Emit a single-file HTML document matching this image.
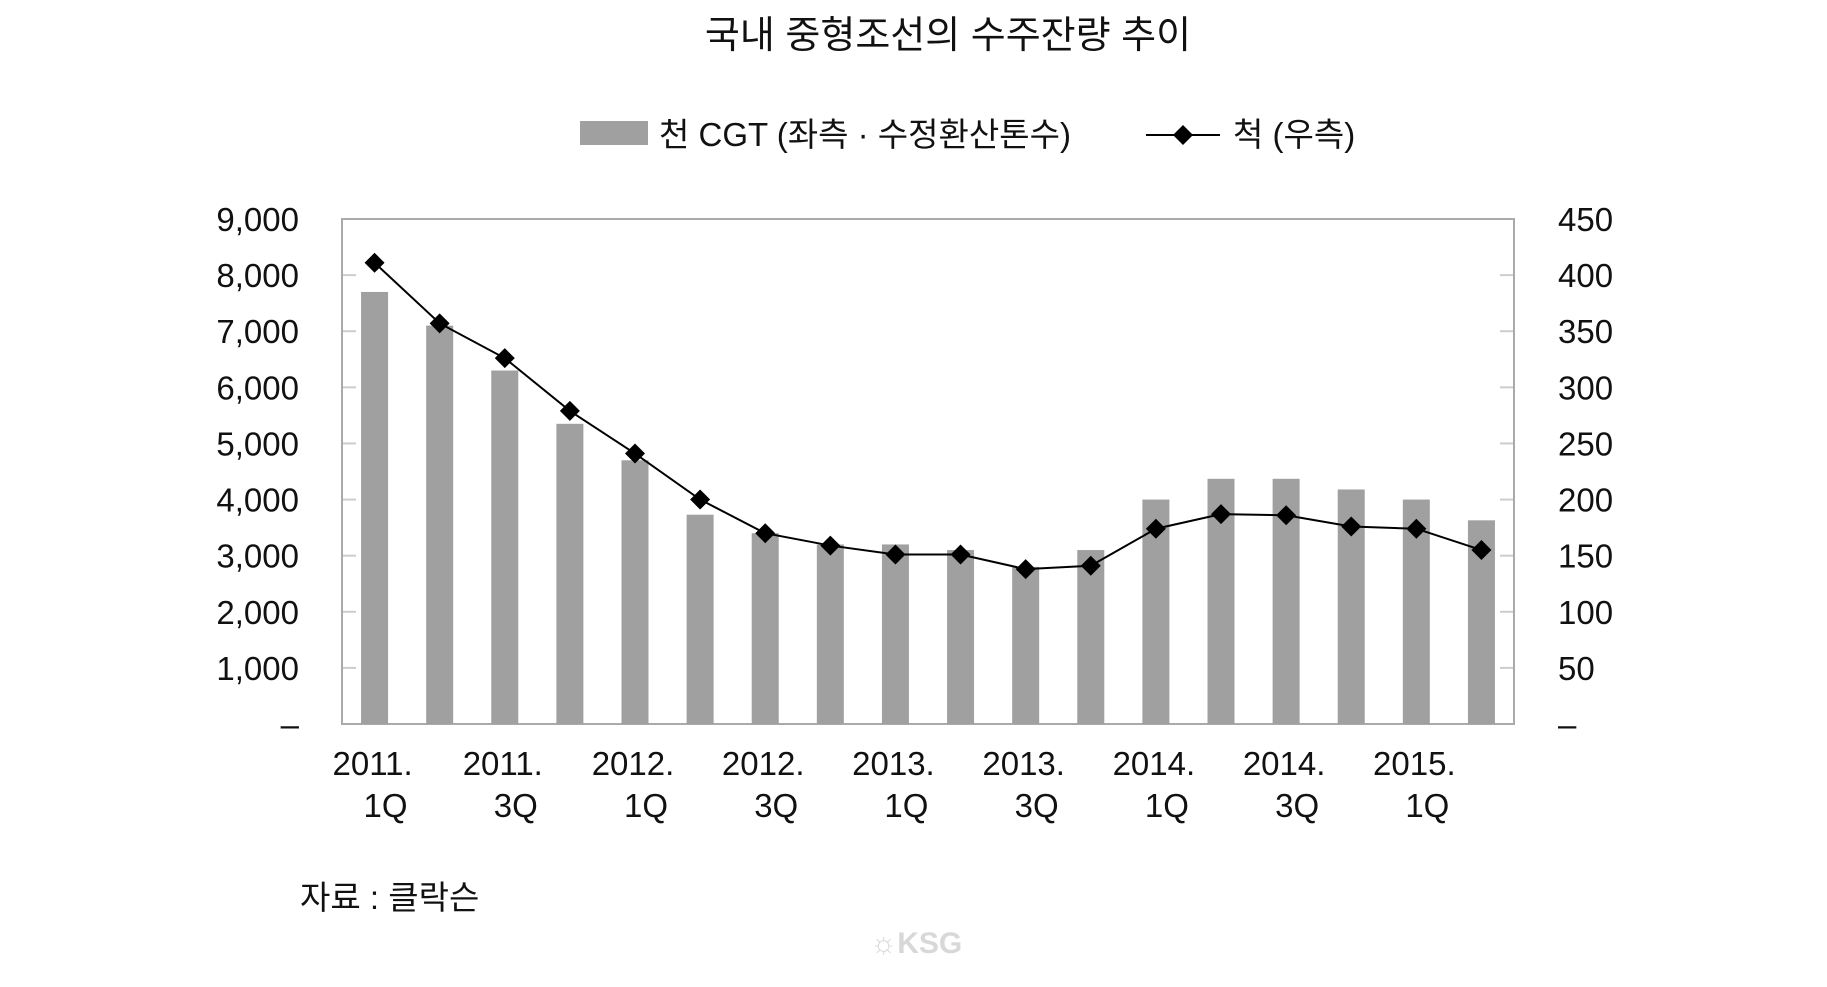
<!DOCTYPE html>
<html><head><meta charset="utf-8"><style>
html,body{margin:0;padding:0;background:#fff;}
svg{display:block;}
text{font-family:"Liberation Sans","Noto Sans CJK KR",sans-serif;fill:#111;}
</style></head><body>
<svg width="1827" height="987" viewBox="0 0 1827 987" xmlns="http://www.w3.org/2000/svg">
<text x="948" y="48" font-size="38" text-anchor="middle">국내 중형조선의 수주잔량 추이</text>
<rect x="580" y="121" width="68" height="24" fill="#a0a0a0"/>
<text x="659" y="146" font-size="33">천 CGT (좌측 · 수정환산톤수)</text>
<line x1="1146" y1="135" x2="1220" y2="135" stroke="#000" stroke-width="2"/>
<polygon points="1183,125 1193,135 1183,145 1173,135" fill="#000"/>
<text x="1233" y="146" font-size="33">척 (우측)</text>
<g id="chart"></g>
<text x="300" y="909" font-size="33">자료 : 클락슨</text>
<text x="916" y="953" font-size="30" font-weight="bold" text-anchor="middle" style="fill:#d8d8d8">☼KSG</text>
</svg>
<script>
const g=document.getElementById('chart');const ns='http://www.w3.org/2000/svg';
function el(t,a,txt){const e=document.createElementNS(ns,t);for(const k in a)e.setAttribute(k,a[k]);if(txt!==undefined)e.textContent=txt;g.appendChild(e);return e;}
const L=342,R=1514,T=219,B=724,H=B-T;
const bars=[7700,7100,6300,5350,4700,3730,3400,3200,3200,3100,2800,3100,4000,4370,4370,4180,4000,3630];
const line=[411,357,326,279,241,200,170,159,151,151,138,141,174,187,186,176,174,155];
const cw=(R-L)/18;
for(let i=0;i<=9;i++){const y=B-H*i/9;
 if(i>0&&i<9){el('line',{x1:L,y1:y,x2:L+14,y2:y,stroke:'#ccc','stroke-width':2});el('line',{x1:R-14,y1:y,x2:R,y2:y,stroke:'#ccc','stroke-width':2});}
 el('text',{x:299,y:y+12,'font-size':33,'text-anchor':'end'},i==0?'–':(i*1000).toLocaleString('en-US'));
 el('text',{x:1558,y:y+12,'font-size':33},i==0?'–':String(i*50));
}
el('rect',{x:L,y:T,width:R-L,height:H,fill:'none',stroke:'#aaa','stroke-width':2});
bars.forEach((v,i)=>{const cx=L+cw*(i+0.5);const h=v/9000*H;el('rect',{x:cx-13.5,y:B-h,width:27,height:h,fill:'#a0a0a0'});});
let pts=line.map((v,i)=>[L+cw*(i+0.5),B-v/450*H]);
el('polyline',{points:pts.map(p=>p.join(',')).join(' '),fill:'none',stroke:'#000','stroke-width':2});
pts.forEach(p=>el('polygon',{points:`${p[0]},${p[1]-10} ${p[0]+10},${p[1]} ${p[0]},${p[1]+10} ${p[0]-10},${p[1]}`,fill:'#000'}));
const labs=[['2011.','1Q'],['2011.','3Q'],['2012.','1Q'],['2012.','3Q'],['2013.','1Q'],['2013.','3Q'],['2014.','1Q'],['2014.','3Q'],['2015.','1Q']];
labs.forEach((l,k)=>{const cx=L+cw*(2*k+0.5);el('text',{x:cx-2,y:775,'font-size':33,'text-anchor':'middle'},l[0]);el('text',{x:cx+11,y:817,'font-size':33,'text-anchor':'middle'},l[1]);});
</script>
</body></html>
